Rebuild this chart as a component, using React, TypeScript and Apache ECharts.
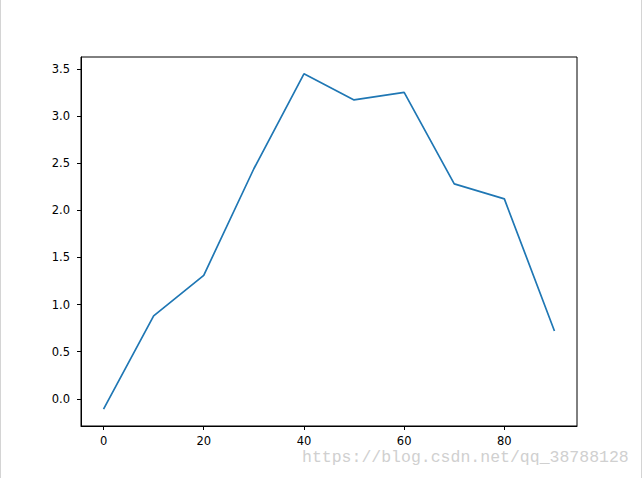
import React, { useEffect, useRef } from "react";
import * as echarts from "echarts";

const xValues = [0, 10, 20, 30, 40, 50, 60, 70, 80, 90];
const yValues = [-0.11, 0.88, 1.31, 2.44, 3.447, 3.17, 3.25, 2.28, 2.12, 0.72];
const xTicks = [0, 20, 40, 60, 80];
const yTicks = [0, 0.5, 1.0, 1.5, 2.0, 2.5, 3.0, 3.5];
const watermark = "https://blog.csdn.net/qq_38788128";

export default function App() {
  const ref = useRef<HTMLDivElement>(null);
  useEffect(() => {
    if (!ref.current) return;
    const chart = echarts.init(ref.current, undefined, { renderer: "svg" });
    const font = "DejaVu Sans";
    chart.setOption({
      animation: false,
      backgroundColor: "#ffffff",
      grid: {
        left: 81,
        top: 57,
        width: 496,
        height: 369,
        show: true,
        borderColor: "#000000",
        borderWidth: 1,
        containLabel: false,
      },
      xAxis: {
        type: "value",
        min: -4.5,
        max: 94.5,
        axisLine: { show: true, onZero: false, lineStyle: { color: "#000", width: 1 } },
        axisTick: { show: true, customValues: xTicks, length: 4, lineStyle: { color: "#000", width: 1 } },
        axisLabel: {
          customValues: xTicks,
          color: "#000",
          fontFamily: font,
          fontSize: 11.5,
          margin: 9,
          formatter: (v: number) => String(v),
        },
        splitLine: { show: false },
      },
      yAxis: {
        type: "value",
        min: -0.288,
        max: 3.625,
        axisLine: { show: true, onZero: false, lineStyle: { color: "#000", width: 1 } },
        axisTick: { show: true, customValues: yTicks, length: 4, lineStyle: { color: "#000", width: 1 } },
        axisLabel: {
          customValues: yTicks,
          color: "#000",
          fontFamily: font,
          fontSize: 11.5,
          margin: 11,
          formatter: (v: number) => v.toFixed(1),
        },
        splitLine: { show: false },
      },
      series: [
        {
          type: "line",
          data: xValues.map((x, i) => [x, yValues[i]]),
          showSymbol: false,
          symbol: "none",
          lineStyle: { color: "#1f77b4", width: 1.7 },
          itemStyle: { color: "#1f77b4" },
        },
      ],
      graphic: [
        { type: "line", shape: { x1: 0.5, y1: 0, x2: 0.5, y2: 478 }, style: { stroke: "#d4d4d4", lineWidth: 1 } },
        { type: "line", shape: { x1: 641.5, y1: 0, x2: 641.5, y2: 478 }, style: { stroke: "#d4d4d4", lineWidth: 1 } },
        {
          type: "text",
          x: 302,
          y: 449,
          style: {
            text: watermark,
            fill: "#d0d0d0",
            font: "16.5px 'Liberation Mono', monospace",
            verticalAlign: "top",
            align: "left",
          },
        },
      ],
    });
    return () => chart.dispose();
  }, []);
  return (
    <div
      ref={ref}
      style={{ position: "absolute", left: 0, top: 0, width: 644, height: 478, background: "#fff" }}
    />
  );
}
